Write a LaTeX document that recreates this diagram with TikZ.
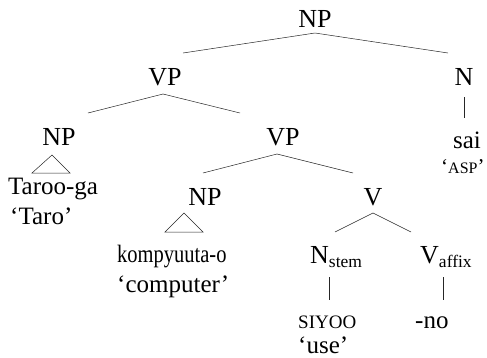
\documentclass[tikz,border=0pt]{standalone}
\usepackage{fontspec}
\setmainfont{Liberation Serif}
\newcommand{\catf}{\fontsize{26}{30}\selectfont}
\newcommand{\wordf}{\fontsize{25}{29}\selectfont}
\newcommand{\scf}{\fontsize{19}{22}\selectfont}
\newcommand{\subf}{\fontsize{17.5}{20}\selectfont}
\begin{document}
\begin{tikzpicture}[x=1pt,y=-1pt,
  cat/.style={inner sep=0pt,anchor=base,font=\catf},
  word/.style={inner sep=0pt,anchor=base west,font=\wordf},
  edge/.style={line width=0.5pt,draw=black!85}]
\useasboundingbox (0,0) rectangle (487,357);
% categories
\node[cat] (np0) at (315,27) {NP};
\node[cat] (vp1) at (165,85) {VP};
\node[cat] (n1) at (464,85) {N};
\node[cat] (np2) at (59,145) {NP};
\node[cat] (vp2) at (283,145) {VP};
\node[cat] (np3) at (205,205) {NP};
\node[cat] (v3) at (373,205) {V};
\node[inner sep=0pt,anchor=base west,font=\catf] (nstem) at (310,263) {N\raisebox{-4pt}{\subf stem}};
\node[inner sep=0pt,anchor=base west,font=\catf] (vaff) at (420,263) {V\raisebox{-4pt}{\subf affix}};
% words
\node[inner sep=0pt,anchor=base,font=\wordf] (sai) at (467,148) {sai};
\node[inner sep=0pt,anchor=base west,font=\fontsize{21}{26}\selectfont] (asp) at (441,173) {`{\fontsize{16}{20}\selectfont ASP}'};
\node[word] (taroo) at (8,194) {Taroo-ga};
\node[word] (taro) at (10,224) {`Taro'};
\node[word] (komp) at (117,262) {\scalebox{0.82}[1]{kompyuuta-o}};
\node[word] (comp) at (117,292) {`computer'};
\node[word] (siyoo) at (298,328) {\scf SIYOO};
\node[word] (use) at (298,353) {`use'};
\node[word] (no) at (415,328) {-no};
% edge coordinates
\coordinate (a0) at (315,33);
\coordinate (l0) at (183,53);
\coordinate (r0) at (448,53);
\coordinate (a1) at (163,94);
\coordinate (l1) at (88,113);
\coordinate (r1) at (240,113);
\coordinate (a2) at (277,154);
\coordinate (l2) at (203,173);
\coordinate (r2) at (353,173);
\coordinate (a3) at (373,213);
\coordinate (l3) at (335,232);
\coordinate (r3) at (411,232);
\coordinate (nt) at (464,97);
\coordinate (nb) at (464,118);
\coordinate (st) at (329,277);
\coordinate (sb) at (329,300);
\coordinate (ft) at (443,277);
\coordinate (fb) at (443,300);
\coordinate (t1a) at (52,155);
\coordinate (t1l) at (32,173);
\coordinate (t1r) at (70,173);
\coordinate (t2a) at (184,213);
\coordinate (t2l) at (165,232);
\coordinate (t2r) at (203,232);
\draw[edge] (l0) -- (a0) -- (r0);
\draw[edge] (l1) -- (a1) -- (r1);
\draw[edge] (l2) -- (a2) -- (r2);
\draw[edge] (l3) -- (a3) -- (r3);
\draw[edge] (nt) -- (nb);
\draw[edge] (st) -- (sb);
\draw[edge] (ft) -- (fb);
\draw[edge] (t1a) -- (t1l) -- (t1r) -- cycle;
\draw[edge] (t2a) -- (t2l) -- (t2r) -- cycle;
\end{tikzpicture}
\end{document}
